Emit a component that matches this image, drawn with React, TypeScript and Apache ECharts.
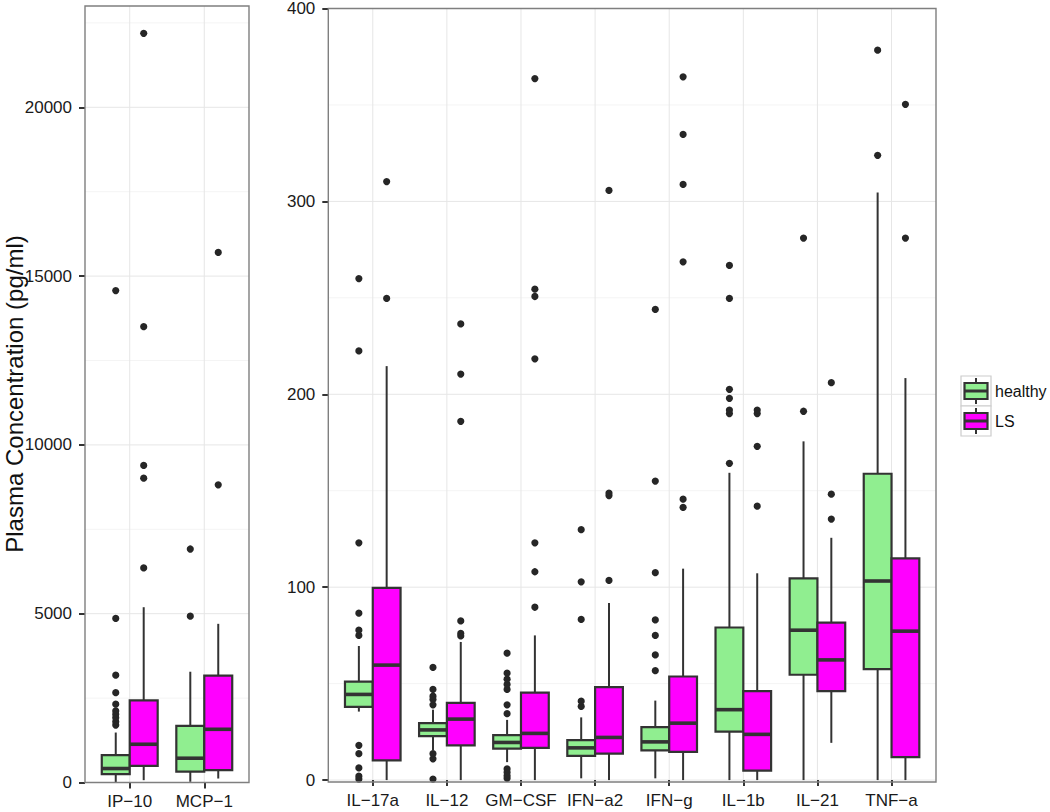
import React, { useEffect, useRef } from "react";
import * as echarts from "echarts";

const leftCategories = ["IP−10", "MCP−1"];
const rightCategories = ["IL−17a", "IL−12", "GM−CSF", "IFN−a2", "IFN−g", "IL−1b", "IL−21", "TNF−a"];
const groupNames = ["healthy", "LS"];
const groupColors = ["#90EE90", "#FF00FF"];

// box stats: [min, q1, median, q3, max]
const leftHealthyStats = [
  [0, 246, 414, 808, 1480],
  [20, 325, 719, 1675, 3281],
];
const leftLSStats = [
  [69, 493, 1133, 2433, 5192],
  [118, 365, 1576, 3163, 4700],
];
const leftHealthyOutliers = [
  [1700, 1800, 1920, 2020, 2120, 2320, 2660, 3180, 4860, 14570],
  [4926, 6916],
];
const leftLSOutliers = [
  [6355, 9015, 9390, 13500, 22190],
  [8818, 15700],
];

const rightHealthyStats = [
  [35.5, 37.9, 44.4, 51, 69.5],
  [15.4, 22.8, 26, 29.5, 36.5],
  [9.3, 16.3, 19.5, 23.3, 31.2],
  [0.9, 12.5, 16.7, 20.7, 32.5],
  [0.9, 15.4, 19.8, 27.5, 41.2],
  [0, 25.1, 36.5, 79.1, 159.3],
  [0, 54.6, 77.7, 104.6, 175.6],
  [0, 57.5, 103.2, 158.8, 304.6],
];
const rightLSStats = [
  [0, 10.2, 59.6, 99.6, 214.6],
  [0, 18, 31.6, 40, 71.6],
  [0, 16.7, 24.2, 45.3, 75],
  [0, 13.7, 22.1, 48.2, 91.8],
  [0, 14.6, 29.5, 53.7, 109.6],
  [0, 4.9, 23.7, 46.1, 107.2],
  [19.3, 46.1, 62.3, 81.6, 125.6],
  [0, 11.9, 77.2, 114.9, 208.4],
];
const rightHealthyOutliers = [
  [0.5, 2, 6.3, 13.7, 18, 75, 77.7, 86.5, 123, 222.5, 260],
  [0.5, 11, 13.7, 39, 41.8, 43.5, 47, 58.4],
  [0.9, 2.3, 4, 5.8, 34.4, 39, 47, 49.6, 52.3, 55.4, 65.8],
  [38.2, 40.9, 83.3, 102.8, 129.8],
  [56.7, 64.9, 75, 83, 107.5, 155, 244],
  [164.2, 190, 191.8, 197.9, 202.6, 249.7, 266.8],
  [191.2, 281],
  [323.9, 378.4],
];
const rightLSOutliers = [
  [249.7, 310.3],
  [74.7, 76, 82.5, 186, 210.5, 236.5],
  [89.6, 108, 123, 218.4, 250.7, 254.5, 363.7],
  [103.5, 147.5, 148.8, 305.7],
  [141.4, 145.6, 268.7, 308.8, 334.7, 364.6],
  [142, 173, 190, 191.8],
  [135.3, 148.2, 206],
  [281, 350.3],
];

const leftTicks = [0, 5000, 10000, 15000, 20000];
const leftMinorTicks = [2500, 7500, 12500, 17500, 22500];
const rightTicks = [0, 100, 200, 300, 400];
const rightMinorTicks = [50, 150, 250, 350];

const FONT = "'Liberation Sans', Arial, Helvetica, sans-serif";
const DARK = "#333333";

const statsData = (stats: number[][]) => stats.map((s, i) => [i, ...s]);
const outlierData = (outs: number[][]) => {
  const d: number[][] = [];
  outs.forEach((arr, i) => arr.forEach((v) => d.push([i, v])));
  return d;
};

const makeBox = (sign: number, fill: string) => (params: any, api: any) => {
  const c = api.value(0);
  const band = api.size([1, 0])[0];
  const bw = band * 0.375;
  const cx = api.coord([c, 0])[0] + (sign * bw) / 2;
  const y = (i: number) => api.coord([c, api.value(i)])[1];
  const yMin = y(1), yQ1 = y(2), yMed = y(3), yQ3 = y(4), yMax = y(5);
  const ls = { stroke: DARK, lineWidth: 2 };
  return {
    type: "group",
    children: [
      { type: "line", shape: { x1: cx, y1: yQ3, x2: cx, y2: yMax }, style: ls },
      { type: "line", shape: { x1: cx, y1: yQ1, x2: cx, y2: yMin }, style: ls },
      {
        type: "rect",
        shape: { x: cx - bw / 2, y: yQ3, width: bw, height: yQ1 - yQ3 },
        style: { fill, stroke: DARK, lineWidth: 2.2 },
      },
      {
        type: "line",
        shape: { x1: cx - bw / 2, y1: yMed, x2: cx + bw / 2, y2: yMed },
        style: { stroke: DARK, lineWidth: 3.6 },
      },
    ],
  };
};

const makeOutlier = (sign: number) => (params: any, api: any) => {
  const c = api.value(0);
  const band = api.size([1, 0])[0];
  const bw = band * 0.375;
  const p = api.coord([c, api.value(1)]);
  return {
    type: "circle",
    shape: { cx: p[0] + (sign * bw) / 2, cy: p[1], r: 3.6 },
    style: { fill: "#262626" },
  };
};

const hGrid = (params: any, api: any) => {
  const cs = params.coordSys;
  const pad = api.size([1, 0])[0] * 0.1;
  const yv = api.coord([0, api.value(1)])[1];
  const major = api.value(2) === 1;
  return {
    type: "line",
    shape: { x1: cs.x - pad, y1: yv, x2: cs.x + cs.width + pad, y2: yv },
    style: { stroke: major ? "#E6E6E6" : "#F4F4F4", lineWidth: 1 },
  };
};

const vGrid = (params: any, api: any) => {
  const cs = params.coordSys;
  const xv = api.coord([api.value(0), 0])[0];
  return {
    type: "line",
    shape: { x1: xv, y1: cs.y, x2: xv, y2: cs.y + cs.height },
    style: { stroke: "#E6E6E6", lineWidth: 1 },
  };
};

const frame = (params: any, api: any) => {
  const cs = params.coordSys;
  const pad = api.size([1, 0])[0] * 0.1;
  return {
    type: "rect",
    shape: { x: cs.x - pad, y: cs.y, width: cs.width + 2 * pad, height: cs.height },
    style: { fill: "none", stroke: "#7F7F7F", lineWidth: 1.4 },
  };
};

const panelSeries = (
  idx: number,
  cats: string[],
  hStats: number[][],
  lStats: number[][],
  hOut: number[][],
  lOut: number[][],
  ticks: number[],
  minor: number[]
) => {
  const axis = { xAxisIndex: idx, yAxisIndex: idx };
  const gridData = [...ticks.map((t) => [0, t, 1]), ...minor.map((t) => [0, t, 0])];
  return [
    { type: "custom", ...axis, z: 0, silent: true, renderItem: hGrid, data: gridData },
    { type: "custom", ...axis, z: 0, silent: true, renderItem: vGrid, data: cats.map((_, i) => [i, 0]) },
    { type: "custom", ...axis, z: 2, name: groupNames[0], renderItem: makeBox(-1, groupColors[0]), data: statsData(hStats) },
    { type: "custom", ...axis, z: 2, name: groupNames[1], renderItem: makeBox(1, groupColors[1]), data: statsData(lStats) },
    { type: "custom", ...axis, z: 3, renderItem: makeOutlier(-1), data: outlierData(hOut) },
    { type: "custom", ...axis, z: 3, renderItem: makeOutlier(1), data: outlierData(lOut) },
    { type: "custom", ...axis, z: 4, silent: true, renderItem: frame, data: [[0, 0]] },
  ];
};

// layout
const LEFT_PANEL = { x: 85, w: 164, top: 6, h: 776.5, n: 2 };
const RIGHT_PANEL = { x: 328.3, w: 607.7, top: 6, h: 776, n: 8 };
const gridFor = (p: any) => {
  const unit = p.w / (p.n + 0.2);
  return { left: p.x + unit * 0.1, top: p.top, width: unit * p.n, height: p.h, pad: unit * 0.1 };
};

const xAxisFor = (gridIndex: number, cats: string[]) => ({
  type: "category",
  gridIndex,
  data: cats,
  boundaryGap: true,
  axisLine: { show: false },
  axisTick: { show: true, alignWithLabel: true, interval: 0, length: 6, lineStyle: { color: "#000", width: 1.6 } },
  axisLabel: { color: "#1a1a1a", fontSize: 17, fontFamily: FONT, margin: 10, interval: 0 },
  splitLine: { show: false },
});

const yAxisFor = (gridIndex: number, min: number, max: number, ticks: number[], offset: number) => ({
  type: "value",
  gridIndex,
  min,
  max,
  offset,
  axisLine: { show: false },
  axisTick: { show: true, length: 6, customValues: ticks, lineStyle: { color: "#000", width: 1.6 } },
  axisLabel: {
    color: "#1a1a1a",
    fontSize: 17,
    fontFamily: FONT,
    margin: 13,
    customValues: ticks,
    formatter: (v: number) => String(v),
  },
  splitLine: { show: false },
});

const legendGraphics = () => {
  const items: any[] = [];
  const kx = 961, ky = 376, ks = 30;
  groupNames.forEach((name, i) => {
    const y0 = ky + i * ks;
    const cx = kx + ks / 2;
    items.push(
      { type: "rect", shape: { x: kx, y: y0, width: ks, height: ks }, style: { fill: "#fff", stroke: "#CCCCCC", lineWidth: 1.2 } },
      { type: "line", shape: { x1: cx, y1: y0 + 2, x2: cx, y2: y0 + ks - 2 }, style: { stroke: DARK, lineWidth: 2 } },
      { type: "rect", shape: { x: kx + 3.5, y: y0 + 7, width: ks - 7, height: ks - 14 }, style: { fill: groupColors[i], stroke: DARK, lineWidth: 2.2 } },
      { type: "line", shape: { x1: kx + 3.5, y1: y0 + ks / 2, x2: kx + ks - 3.5, y2: y0 + ks / 2 }, style: { stroke: DARK, lineWidth: 3 } },
      { type: "text", x: kx + ks + 4, y: y0 + ks / 2, style: { text: name, font: `16px ${FONT}`, fill: "#111", textAlign: "left", textVerticalAlign: "middle" } }
    );
  });
  return items;
};

export default function App() {
  const ref = useRef<HTMLDivElement>(null);
  useEffect(() => {
    document.body.style.margin = "0";
    if (!ref.current) return;
    const chart = echarts.init(ref.current, undefined, { renderer: "svg" });
    const gl = gridFor(LEFT_PANEL);
    const gr = gridFor(RIGHT_PANEL);
    chart.setOption({
      animation: false,
      backgroundColor: "#ffffff",
      grid: [
        { left: gl.left, top: gl.top, width: gl.width, height: gl.height },
        { left: gr.left, top: gr.top, width: gr.width, height: gr.height },
      ],
      xAxis: [xAxisFor(0, leftCategories), xAxisFor(1, rightCategories)],
      yAxis: [
        yAxisFor(0, 0, 23000, leftTicks, gl.pad),
        yAxisFor(1, -1, 400, rightTicks, gr.pad),
      ],
      series: [
        ...panelSeries(0, leftCategories, leftHealthyStats, leftLSStats, leftHealthyOutliers, leftLSOutliers, leftTicks, leftMinorTicks),
        ...panelSeries(1, rightCategories, rightHealthyStats, rightLSStats, rightHealthyOutliers, rightLSOutliers, rightTicks, rightMinorTicks),
      ],
      graphic: [
        {
          type: "text",
          x: 14,
          y: 394,
          rotation: Math.PI / 2,
          style: {
            text: "Plasma Concentration (pg/ml)",
            font: `24px ${FONT}`,
            fill: "#111",
            textAlign: "center",
            textVerticalAlign: "middle",
          },
        },
        ...legendGraphics(),
      ],
    });
    return () => chart.dispose();
  }, []);
  return <div ref={ref} style={{ width: 1050, height: 812 }} />;
}
